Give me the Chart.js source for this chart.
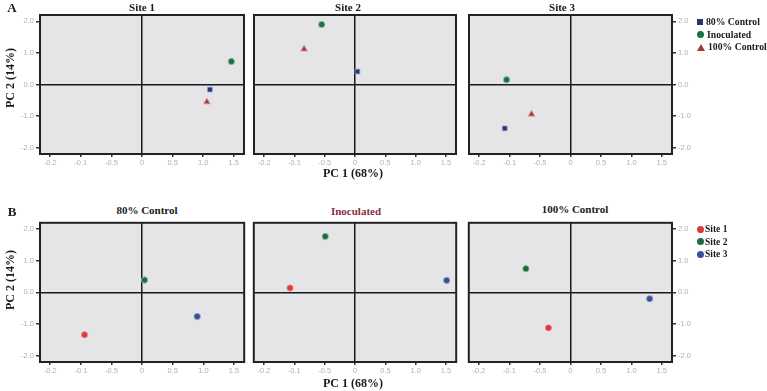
<!DOCTYPE html>
<html>
<head>
<meta charset="utf-8">
<script src="https://cdn.jsdelivr.net/npm/chart.js@4"></script>
<style>
  body { margin: 0; background: #fff; width: 767px; height: 391px; position: relative; overflow: hidden; }
  canvas { position: absolute; }
  .lbl { position: absolute; font-family: "Liberation Serif", serif; font-weight: bold; color: #1a1a1a; white-space: nowrap; transform: translate(-50%, -50%); }
  .leg { position: absolute; font-family: "Liberation Serif", serif; font-weight: bold; color: #1a1a1a; white-space: nowrap; }
  .leg div { height: 12.5px; line-height: 12.5px; display: flex; align-items: center; }
  .mk { display: inline-block; margin-right: 3px; }
</style>
</head>
<body>
<canvas id="a1"></canvas><canvas id="a2"></canvas><canvas id="a3"></canvas>
<canvas id="b1"></canvas><canvas id="b2"></canvas><canvas id="b3"></canvas>

<div class="lbl" style="left:12px;top:8px;font-size:13px;">A</div>
<div class="lbl" style="left:12px;top:212px;font-size:13px;">B</div>
<div class="lbl" style="left:142px;top:7px;font-size:11px;">Site 1</div>
<div class="lbl" style="left:348px;top:7px;font-size:11px;">Site 2</div>
<div class="lbl" style="left:562px;top:7px;font-size:11px;">Site 3</div>
<div class="lbl" style="left:147px;top:210px;font-size:11px;">80% Control</div>
<div class="lbl" style="left:356px;top:211px;font-size:11px;color:#8a2c48;">Inoculated</div>
<div class="lbl" style="left:575px;top:209px;font-size:11px;">100% Control</div>
<div class="lbl" style="left:353px;top:173px;font-size:12px;">PC 1 (68%)</div>
<div class="lbl" style="left:353px;top:383px;font-size:12px;">PC 1 (68%)</div>
<div class="lbl" style="left:10px;top:78px;font-size:12px;transform:translate(-50%,-50%) rotate(-90deg);">PC 2 (14%)</div>
<div class="lbl" style="left:10px;top:280px;font-size:12px;transform:translate(-50%,-50%) rotate(-90deg);">PC 2 (14%)</div>

<div class="leg" style="left:697px;top:16px;font-size:9.7px;">
  <div><span class="mk" style="width:6px;height:6px;background:#26366e;"></span>80% Control</div>
  <div><span class="mk" style="width:7px;height:7px;border-radius:50%;background:#1b7143;"></span>Inoculated</div>
  <div><span class="mk" style="width:0;height:0;border-left:4px solid transparent;border-right:4px solid transparent;border-bottom:7px solid #a33a3a;"></span>100% Control</div>
</div>
<div class="leg" style="left:697px;top:223px;font-size:9.5px;">
  <div><span class="mk" style="width:7px;height:7px;border-radius:50%;background:#d93a3a;margin-right:1px;"></span>Site 1</div>
  <div><span class="mk" style="width:7px;height:7px;border-radius:50%;background:#1b6b40;margin-right:1px;"></span>Site 2</div>
  <div><span class="mk" style="width:7px;height:7px;border-radius:50%;background:#3c4f94;margin-right:1px;"></span>Site 3</div>
</div>

<script>
// axis ticks (labels copied as printed in the figure)
const xTickValues = [-1.5, -1, -0.5, 0, 0.5, 1, 1.5];
const xTickLabels = ['-0.2', '-0.1', '-0.5', '0', '0.5', '1.0', '1.5'];
const yTickValues = [-2, -1, 0, 1, 2];
const yTickLabels = ['-2.0', '-1.0', '0.0', '1.0', '2.0'];

// panel A: one panel per site, points per treatment (index = site)
const siteNames = ['Site 1', 'Site 2', 'Site 3'];
const ctrl80PC1 = [1.11, 0.04, -1.08];
const ctrl80PC2 = [-0.16, 0.41, -1.39];
const inocPC1 = [1.46, -0.55, -1.05];
const inocPC2 = [0.73, 1.90, 0.15];
const ctrl100PC1 = [1.06, -0.84, -0.64];
const ctrl100PC2 = [-0.55, 1.12, -0.94];

// panel B: one panel per treatment, points per site (index = treatment)
const treatmentNames = ['80% Control', 'Inoculated', '100% Control'];
const site1PC1 = [-0.94, -1.07, -0.36];
const site1PC2 = [-1.34, 0.14, -1.12];
const site2PC1 = [0.04, -0.49, -0.73];
const site2PC2 = [0.39, 1.77, 0.75];
const site3PC1 = [0.90, 1.51, 1.30];
const site3PC2 = [-0.76, 0.38, -0.20];

const plotCols = [[40, 205], [253, 204], [468, 204]];
const plotRows = [14, 222];
const plotH = 140;
const sidePad = 26, bottomPad = 16, edgePad = 4;

const framePlugin = {
    id: 'frame',
    beforeDraw(chart) {
        const a = chart.chartArea, c = chart.ctx;
        c.save();
        c.fillStyle = '#e5e5e7';
        c.fillRect(a.left, a.top, a.right - a.left, a.bottom - a.top);
        c.restore();
    },
    afterDraw(chart) {
        const a = chart.chartArea, c = chart.ctx;
        c.save();
        c.strokeStyle = '#222';
        c.lineWidth = 2;
        c.strokeRect(a.left, a.top, a.right - a.left, a.bottom - a.top);
        c.restore();
    }
};

function pts(xs, ys, i) { return [{x: xs[i], y: ys[i]}]; }

function makePanel(id, row, col, datasets) {
    const [pl, pw] = plotCols[col];
    const hasLeft = col === 0, hasRight = col === 2;
    const padL = hasLeft ? sidePad : edgePad;
    const padR = hasRight ? sidePad : edgePad;
    const width = pw + padL + padR;
    const height = plotH + edgePad + bottomPad;
    const cv = document.getElementById(id);
    cv.style.left = (pl - padL) + 'px';
    cv.style.top = (plotRows[row] - edgePad) + 'px';
    cv.width = width;
    cv.height = height;
    cv.style.width = width + 'px';
    cv.style.height = height + 'px';

    const padding = {
        left: hasLeft ? 0 : edgePad,
        right: hasRight ? 0 : edgePad,
        top: edgePad,
        bottom: 0
    };

    const chart = new Chart(cv.getContext('2d'), {
        type: 'scatter',
        data: { datasets: datasets },
        options: {
            responsive: false,
            animation: false,
            layout: { padding: padding },
            plugins: { legend: { display: false }, tooltip: { enabled: false } },
            scales: {
                x: {
                    min: -1.667, max: 1.667,
                    afterBuildTicks: s => { s.ticks = xTickValues.map(v => ({value: v})); },
                    afterFit: s => { s.height = bottomPad; s.paddingLeft = 0; s.paddingRight = 0; },
                    border: { display: false },
                    grid: {
                        color: c => c.tick && c.tick.value === 0 ? '#1a1a1a' : 'transparent',
                        lineWidth: 1.5,
                        tickColor: '#333',
                        tickLength: 3
                    },
                    ticks: {
                        autoSkip: false, maxRotation: 0, padding: 1,
                        color: '#b0b0b0',
                        font: { family: 'Liberation Sans', size: 7.5 },
                        callback: (v, i) => xTickLabels[i]
                    }
                },
                y: {
                    position: hasRight ? 'right' : 'left',
                    min: -2.2, max: 2.2,
                    afterBuildTicks: s => { s.ticks = yTickValues.map(v => ({value: v})); },
                    afterFit: s => { s.width = (hasLeft || hasRight) ? sidePad : 0; s.paddingTop = 0; s.paddingBottom = 0; },
                    border: { display: false },
                    grid: {
                        color: c => c.tick && c.tick.value === 0 ? '#1a1a1a' : 'transparent',
                        lineWidth: 1.5,
                        drawTicks: hasLeft || hasRight,
                        tickColor: '#333',
                        tickLength: 4
                    },
                    ticks: {
                        display: hasLeft || hasRight,
                        padding: 2,
                        color: '#b0b0b0',
                        font: { family: 'Liberation Sans', size: 7.5 },
                        callback: (v, i) => yTickLabels[i]
                    }
                }
            }
        },
        plugins: [framePlugin]
    });

    // nudge layout padding until the plot area sits where the figure has it
    for (let k = 0; k < 3; k++) {
        const a = chart.chartArea;
        const dl = padL - a.left, dr = a.right - (width - padR);
        const dt = edgePad - a.top, db = a.bottom - (edgePad + plotH);
        if (Math.abs(dl) + Math.abs(dr) + Math.abs(dt) + Math.abs(db) < 0.5) break;
        padding.left = Math.max(0, padding.left + dl);
        padding.right = Math.max(0, padding.right + dr);
        padding.top = Math.max(0, padding.top + dt);
        padding.bottom = Math.max(0, padding.bottom + db);
        chart.update();
    }
}

siteNames.forEach((name, i) => {
    makePanel('a' + (i + 1), 0, i, [
        { label: '80% Control', data: pts(ctrl80PC1, ctrl80PC2, i), pointStyle: 'rect', pointRadius: 3.4,
          backgroundColor: '#26366e', borderColor: '#8da0c8', borderWidth: 0.8 },
        { label: 'Inoculated', data: pts(inocPC1, inocPC2, i), pointStyle: 'circle', pointRadius: 3.2,
          backgroundColor: '#1b7143', borderColor: '#9cc7ac', borderWidth: 0.8 },
        { label: '100% Control', data: pts(ctrl100PC1, ctrl100PC2, i), pointStyle: 'triangle', pointRadius: 4,
          backgroundColor: '#a33a3a', borderColor: '#e0a8a8', borderWidth: 1 }
    ]);
});

treatmentNames.forEach((name, i) => {
    makePanel('b' + (i + 1), 1, i, [
        { label: 'Site 1', data: pts(site1PC1, site1PC2, i), pointRadius: 3.2,
          backgroundColor: '#d93a3a', borderColor: '#f0a0a0', borderWidth: 0.8 },
        { label: 'Site 2', data: pts(site2PC1, site2PC2, i), pointRadius: 3.2,
          backgroundColor: '#1b6b40', borderColor: '#9cc7ac', borderWidth: 0.8 },
        { label: 'Site 3', data: pts(site3PC1, site3PC2, i), pointRadius: 3.2,
          backgroundColor: '#3c4f94', borderColor: '#a5b0d5', borderWidth: 0.8 }
    ]);
});
</script>
</body>
</html>
